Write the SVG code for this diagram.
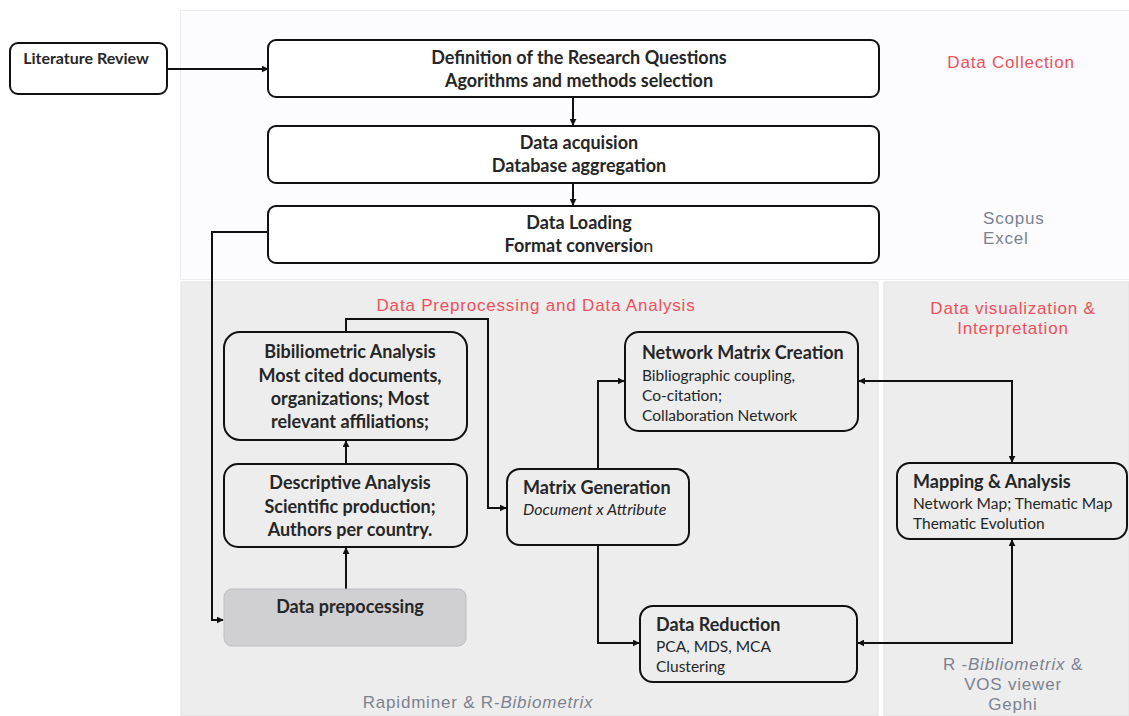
<svg xmlns="http://www.w3.org/2000/svg" width="1129" height="716" viewBox="0 0 1129 716">
<defs>
<marker id="ah" viewBox="0 0 10 10" refX="9" refY="5" markerWidth="7" markerHeight="7" orient="auto-start-reverse" markerUnits="userSpaceOnUse">
<path d="M0,0 L10,5 L0,10 z" fill="#111"/>
</marker>
<style>
.box{fill:#fff;stroke:#111;stroke-width:2}
.boxg{fill:#ededed;stroke:#111;stroke-width:2}
.t{font-family:Lato,"Liberation Sans",sans-serif;font-weight:bold;font-size:18px;fill:#262626}
.ts{font-family:Lato,"Liberation Sans",sans-serif;font-size:15.5px;fill:#262626}
.red{font-family:"Liberation Sans",Arial,sans-serif;font-size:17px;letter-spacing:0.8px;fill:#f0505a}
.gray{font-family:"Liberation Sans",Arial,sans-serif;font-size:17px;letter-spacing:0.8px;fill:#7b8290}
.con{fill:none;stroke:#111;stroke-width:2}
</style>
</defs>
<rect width="1129" height="716" fill="#ffffff"/>
<g id="panels">
<rect x="180.5" y="10.5" width="950" height="269" fill="#fcfbfe" stroke="#ececef"/>
<rect x="181" y="282" width="697" height="434" fill="#ededed" stroke="#e2e2e2"/>
<rect x="884" y="282" width="245" height="434" fill="#ededed" stroke="#e2e2e2"/>
</g>
<g id="labels">
<text class="red" x="1011" y="68" text-anchor="middle">Data Collection</text>
<text class="gray" x="983" y="224">Scopus</text>
<text class="gray" x="983" y="244">Excel</text>
<text class="red" x="536" y="311" text-anchor="middle">Data Preprocessing and Data Analysis</text>
<text class="red" x="1013" y="314" text-anchor="middle">Data visualization &amp;</text>
<text class="red" x="1013" y="334" text-anchor="middle">Interpretation</text>
<text class="gray" x="478" y="708" text-anchor="middle">Rapidminer &amp; R-<tspan font-style="italic">Bibiometrix</tspan></text>
<text class="gray" x="1013" y="670" text-anchor="middle">R -<tspan font-style="italic">Bibliometrix</tspan> &amp;</text>
<text class="gray" x="1013" y="690" text-anchor="middle">VOS viewer</text>
<text class="gray" x="1013" y="710" text-anchor="middle">Gephi</text>
</g>
<g id="connectors">
<path class="con" d="M167,69 L268,69" marker-end="url(#ah)"/>
<path class="con" d="M573,97 L573,125" marker-end="url(#ah)"/>
<path class="con" d="M573,183 L573,205" marker-end="url(#ah)"/>
<path class="con" d="M268,232 L212,232 L212,620 L223,620" marker-end="url(#ah)"/>
<path class="con" d="M346,589 L346,548" marker-end="url(#ah)"/>
<path class="con" d="M346,464 L346,441" marker-end="url(#ah)"/>
<path class="con" d="M346,332 L346,319 L488,319 L488,508 L506,508" marker-end="url(#ah)"/>
<path class="con" d="M598,469 L598,381 L624,381" marker-end="url(#ah)"/>
<path class="con" d="M598,545 L598,643 L639,643" marker-end="url(#ah)"/>
<path class="con" d="M859,381 L1012,381 L1012,462" marker-start="url(#ah)" marker-end="url(#ah)"/>
<path class="con" d="M858,643 L1012,643 L1012,540" marker-start="url(#ah)" marker-end="url(#ah)"/>
</g>
<g id="literature-review">
<rect class="box" x="10" y="43" width="157" height="51" rx="8"/>
<text class="t" x="86" y="64" text-anchor="middle" style="font-size:16px">Literature Review</text>
</g>
<g id="research-questions">
<rect class="box" x="268" y="40" width="611" height="57" rx="8"/>
<text class="t" x="579" y="64" text-anchor="middle">Definition of the Research Questions</text>
<text class="t" x="579" y="87" text-anchor="middle">Agorithms and methods selection</text>
</g>
<g id="data-acquisition">
<rect class="box" x="268" y="126" width="611" height="57" rx="8"/>
<text class="t" x="579" y="149" text-anchor="middle">Data acquision</text>
<text class="t" x="579" y="172" text-anchor="middle">Database aggregation</text>
</g>
<g id="data-loading">
<rect class="box" x="268" y="206" width="611" height="57" rx="8"/>
<text class="t" x="579" y="229" text-anchor="middle">Data Loading</text>
<text class="t" x="579" y="252" text-anchor="middle">Format conversio<tspan font-weight="normal">n</tspan></text>
</g>
<g id="bibliometric-analysis">
<rect class="boxg" x="224" y="332" width="243" height="108" rx="16"/>
<text class="t" x="350" y="358" text-anchor="middle">Bibiliometric Analysis</text>
<text class="t" x="350" y="382" text-anchor="middle">Most cited documents,</text>
<text class="t" x="350" y="405" text-anchor="middle">organizations; Most</text>
<text class="t" x="350" y="428" text-anchor="middle">relevant affiliations;</text>
</g>
<g id="descriptive-analysis">
<rect class="boxg" x="224" y="464" width="243" height="83" rx="14"/>
<text class="t" x="350" y="489" text-anchor="middle">Descriptive Analysis</text>
<text class="t" x="350" y="513" text-anchor="middle">Scientific production;</text>
<text class="t" x="350" y="536" text-anchor="middle">Authors per country.</text>
</g>
<g id="data-prepocessing">
<rect x="224" y="589" width="242" height="57" rx="8" fill="#d0cfd2" stroke="#bdbcbf" stroke-width="1"/>
<text class="t" x="350" y="613" text-anchor="middle">Data prepocessing</text>
</g>
<g id="matrix-generation">
<rect class="boxg" x="507" y="469" width="182" height="76" rx="13"/>
<text class="t" x="523" y="494">Matrix Generation</text>
<text class="ts" x="523" y="515" style="font-size:16px;font-style:italic">Document x Attribute</text>
</g>
<g id="network-matrix">
<rect class="boxg" x="625" y="332" width="233" height="99" rx="14"/>
<text class="t" x="642" y="359">Network Matrix Creation</text>
<text class="ts" x="642" y="381">Bibliographic coupling,</text>
<text class="ts" x="642" y="401">Co-citation;</text>
<text class="ts" x="642" y="421">Collaboration Network</text>
</g>
<g id="data-reduction">
<rect class="boxg" x="640" y="606" width="217" height="76" rx="13"/>
<text class="t" x="656" y="631">Data Reduction</text>
<text class="ts" x="656" y="652">PCA, MDS, MCA</text>
<text class="ts" x="656" y="672">Clustering</text>
</g>
<g id="mapping-analysis">
<rect class="boxg" x="897" y="463" width="230" height="76" rx="13"/>
<text class="t" x="913" y="488">Mapping &amp; Analysis</text>
<text class="ts" x="913" y="509">Network Map; Thematic Map</text>
<text class="ts" x="913" y="529">Thematic Evolution</text>
</g>
</svg>
